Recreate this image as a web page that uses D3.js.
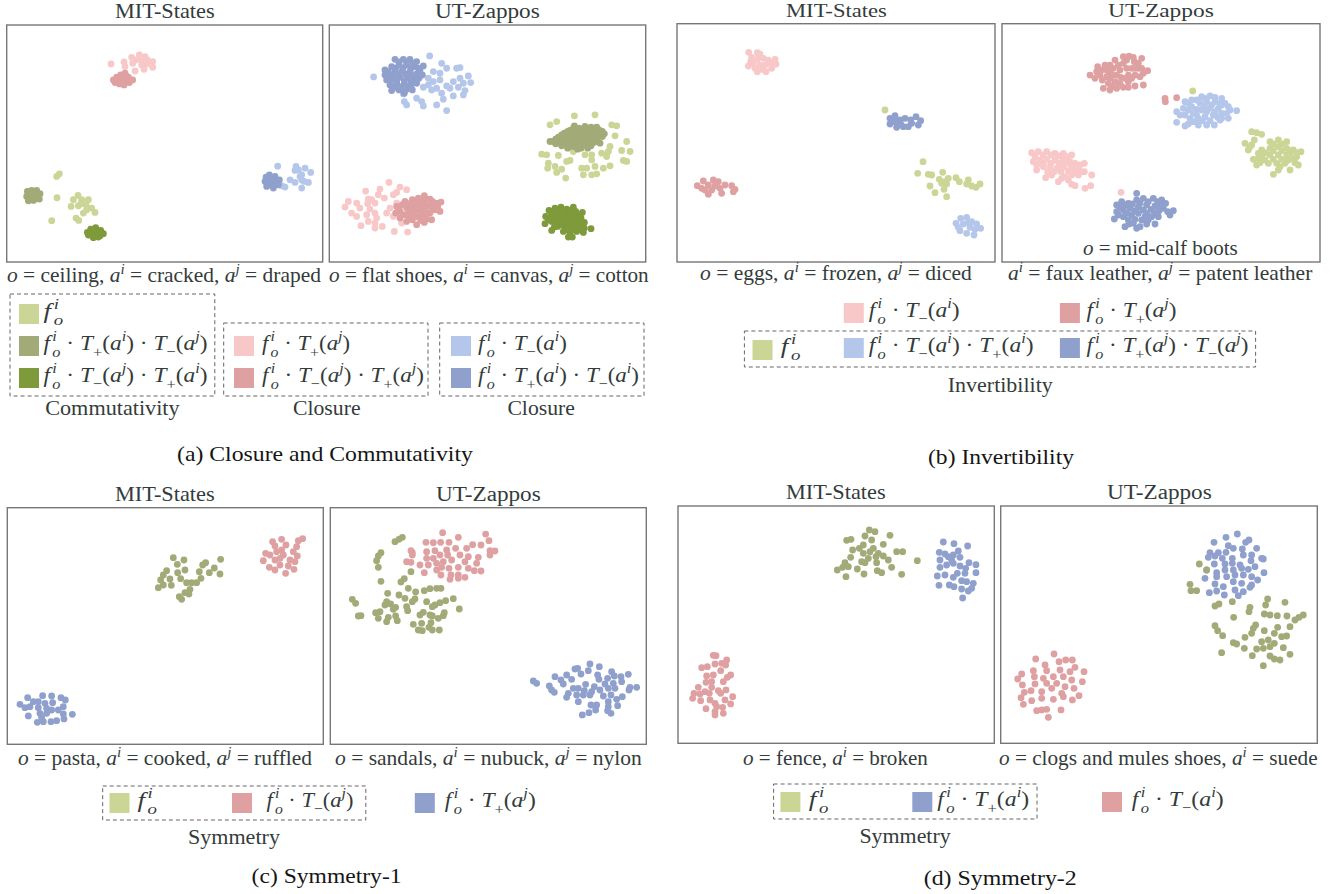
<!DOCTYPE html>
<html>
<head>
<meta charset="utf-8">
<script src="https://cdn.jsdelivr.net/npm/d3@7"></script>
<style>
  body { margin: 0; background: #fff; }
  text { font-family: "Liberation Serif", serif; white-space: pre; }
</style>
</head>
<body>
<svg id="chart" width="1332" height="894"></svg>
<script>
// t-SNE points, one list per cluster
const a1LightPink = [[333,192],[372,186],[375,200],[395,172],[405,180],[418,165],[435,170],[428,185],[442,180],[458,185],[458,202],[432,208],[405,213],[398,190],[415,178],[440,192],[425,195]];
const a1Pink = [[340,240],[350,232],[362,225],[375,220],[385,232],[398,240],[345,248],[358,252],[372,255],[388,248],[368,240],[355,240],[380,240],[378,228],[365,232],[350,240],[362,245],[375,248],[390,240],[370,230]];
const a1LightGreen = [[178,522],[170,530],[171,594],[155,663],[234,587],[220,600],[245,600],[265,600],[213,620],[235,618],[258,615],[275,625],[250,640],[285,638],[228,655],[236,662],[260,630],[243,612]];
const a1Olive = [[82,575],[95,572],[110,572],[120,582],[118,598],[100,602],[85,603],[80,590],[95,588],[108,590],[90,580],[103,580],[112,582],[90,597],[105,598],[88,588],[100,590],[115,590]];
const a1Green = [[262,698],[272,688],[287,684],[302,692],[310,702],[295,712],[280,714],[265,706],[285,700],[298,700],[275,698],[290,692],[305,700],[272,706],[288,708],[300,708],[280,692]];
const a1LightBlue = [[833,499],[888,500],[895,510],[915,505],[932,518],[885,512],[905,525],[870,540],[885,548],[905,540],[925,548],[905,565],[855,562],[845,558],[900,530],[912,545]];
const a1Blue = [[798,532],[808,525],[825,530],[838,540],[835,555],[820,565],[800,560],[795,545],[815,545],[805,540],[815,535],[828,540],[825,552],[810,555],[805,550],[818,558]];

const a2LightBlue = [[146,231],[314,168],[350,190],[365,205],[405,203],[395,205],[325,215],[310,235],[295,262],[325,245],[345,240],[430,228],[405,235],[437,248],[385,245],[365,258],[415,250],[335,265],[320,270],[350,280],[375,265],[400,262],[420,272],[385,288],[355,298],[335,315],[365,332],[295,318],[290,305],[275,295],[245,315],[238,305],[235,282],[345,220],[310,255],[415,285]];
const a2Blue = [[210,178],[235,178],[255,178],[275,185],[295,198],[180,210],[200,200],[222,195],[245,195],[268,200],[285,210],[190,225],[210,215],[232,212],[255,215],[275,222],[292,225],[185,240],[205,235],[225,232],[248,232],[268,238],[195,255],[215,250],[238,250],[260,252],[200,272],[222,270],[245,268],[262,270],[238,280],[222,186],[245,186],[265,190],[190,215],[212,205],[235,203],[258,205],[280,205],[200,225],[220,222],[242,222],[265,228],[282,235],[195,245],[215,242],[238,242],[258,245],[275,250],[210,262],[230,260],[252,260],[235,270],[180,225]];
const a2LightGreen = [[748,348],[810,345],[695,365],[675,375],[860,375],[875,378],[870,408],[905,425],[890,452],[915,455],[905,485],[895,482],[855,440],[850,455],[830,460],[845,470],[800,480],[835,505],[855,498],[810,500],[785,505],[770,505],[775,525],[800,525],[815,522],[735,482],[725,485],[700,467],[665,465],[650,463],[670,490],[668,505],[690,500],[695,518],[710,508],[722,535],[745,455],[780,465],[800,465]];
const a2Olive = [[675,425],[692,418],[692,432],[710,405],[710,420],[710,438],[728,395],[728,412],[728,430],[728,445],[745,385],[745,402],[745,420],[745,440],[762,385],[762,402],[762,420],[768,445],[780,380],[780,398],[780,415],[780,435],[798,382],[798,400],[798,418],[798,438],[815,382],[815,400],[815,418],[832,395],[832,410],[825,430],[748,378],[685,425],[700,412],[700,428],[718,400],[718,415],[718,432],[735,392],[735,405],[737,422],[737,438],[752,392],[753,412],[755,430],[758,448],[770,392],[772,410],[772,428],[790,388],[790,408],[790,426],[788,445],[805,392],[806,410],[806,428],[822,390],[823,405],[818,425],[838,402]];
const a2LightPink = [[192,548],[122,574],[165,568],[160,585],[225,562],[245,570],[205,585],[130,598],[178,595],[70,605],[60,622],[95,610],[128,612],[150,610],[105,625],[135,628],[80,640],[95,650],[125,645],[150,640],[195,625],[185,640],[205,650],[130,665],[150,670],[108,678],[150,685],[172,680],[208,695],[248,697],[230,670],[215,610],[155,655],[215,578],[140,600]];
const a2Pink = [[215,620],[212,640],[225,655],[240,605],[245,625],[245,645],[245,665],[262,600],[262,620],[262,640],[262,660],[275,675],[280,595],[280,612],[280,632],[280,652],[298,588],[298,608],[298,628],[298,648],[298,668],[315,598],[315,618],[315,640],[320,660],[332,610],[330,630],[348,607],[345,635],[225,635],[232,615],[222,625],[235,645],[252,612],[253,635],[253,655],[270,608],[270,628],[270,650],[288,600],[288,622],[288,642],[288,662],[306,598],[306,618],[306,638],[306,658],[322,605],[322,625],[338,620]];
const a2Green = [[672,632],[690,625],[708,622],[725,628],[745,622],[772,638],[662,650],[680,645],[700,642],[720,645],[740,642],[758,648],[660,672],[680,665],[700,660],[720,662],[740,660],[760,665],[778,668],[680,692],[698,680],[718,680],[738,680],[758,682],[778,685],[798,687],[715,695],[735,700],[755,695],[742,712],[775,698],[680,635],[698,632],[716,632],[735,632],[752,635],[670,660],[690,652],[710,652],[730,652],[750,655],[768,655],[690,670],[710,670],[730,670],[750,672],[770,675],[688,682],[728,690],[748,690],[765,690],[730,712]];

const b1LightPink = [[236,157],[262,158],[270,162],[245,172],[262,178],[280,175],[295,180],[315,178],[318,192],[305,205],[288,215],[262,215],[235,198],[250,190],[270,195],[285,195],[300,190],[255,205],[275,208],[242,185]];
const b1Blue = [[660,355],[675,347],[690,360],[660,372],[680,382],[700,380],[715,380],[705,355],[722,360],[738,350],[752,362],[745,375],[725,370],[692,372],[675,365]];
const b1LightGreen = [[645,330],[759,485],[743,520],[775,523],[785,525],[818,517],[808,538],[825,545],[835,535],[858,533],[868,545],[895,540],[890,552],[905,558],[918,562],[930,552],[780,558],[795,578],[822,568],[830,590],[815,550],[830,552]];
const b1LightBlue = [[858,670],[872,655],[890,652],[905,665],[920,672],[932,685],[912,705],[890,700],[870,692],[880,672],[900,682],[865,682],[915,688],[895,668]];
const b1Pink = [[82,557],[100,543],[130,540],[145,545],[95,565],[115,555],[135,558],[115,583],[155,580],[165,555],[185,557],[195,568],[190,575],[150,565],[125,570],[105,570]];

const b2Pink = [[285,225],[308,200],[300,235],[330,195],[335,210],[315,225],[322,240],[325,265],[345,270],[340,250],[360,180],[355,205],[352,225],[360,245],[385,170],[402,168],[385,190],[375,210],[378,232],[385,262],[420,258],[445,255],[440,175],[418,185],[410,205],[400,225],[400,245],[430,205],[458,212],[435,230],[420,225],[345,235],[365,265],[510,295],[511,305],[545,293],[320,210],[345,195],[370,195],[395,180],[415,172],[395,205],[420,205],[440,205],[345,218],[365,225],[390,235],[410,235],[335,230],[305,215],[350,260],[375,250],[400,262],[430,190],[445,220]];
const b2LightBlue = [[570,305],[590,300],[620,290],[645,288],[680,295],[545,335],[565,325],[590,320],[615,310],[635,305],[660,305],[690,310],[705,330],[725,332],[545,367],[570,345],[595,340],[620,330],[645,325],[670,325],[695,340],[570,378],[590,365],[610,355],[630,350],[655,345],[680,355],[700,355],[610,375],[635,375],[658,375],[675,360],[580,310],[605,300],[630,295],[660,292],[675,310],[555,345],[580,330],[605,328],[628,318],[650,315],[680,315],[700,320],[585,355],[605,345],[635,335],[660,335],[680,340],[600,365],[622,362],[645,362],[668,352],[580,372]];
const b2LightGreen = [[593,273],[770,395],[800,403],[785,398],[750,430],[760,450],[770,435],[778,420],[825,425],[850,420],[875,425],[800,450],[825,445],[850,440],[875,445],[895,450],[918,455],[775,478],[785,495],[800,470],[825,465],[850,465],[875,465],[895,475],[820,490],[845,490],[870,490],[885,510],[910,495],[835,523],[850,510],[790,460],[905,470],[835,432],[860,432],[885,460],[810,458],[835,452],[860,452],[885,452],[905,458],[810,480],[835,478],[860,478],[880,480],[795,488],[855,500],[900,488],[765,440],[790,475]];
const b2LightPink = [[110,458],[130,455],[155,455],[180,460],[205,460],[230,465],[115,485],[135,480],[155,478],[180,480],[205,480],[225,485],[125,510],[145,500],[165,500],[185,505],[205,500],[230,500],[250,505],[268,490],[152,533],[170,525],[190,545],[210,530],[230,525],[250,525],[268,515],[290,525],[230,553],[240,557],[270,565],[287,557],[378,577],[120,470],[145,465],[168,465],[192,468],[215,470],[125,495],[145,490],[168,490],[192,490],[215,490],[240,490],[158,515],[178,515],[198,515],[220,512],[240,512],[258,515],[255,495],[200,535],[220,540]];
const b2Blue = [[425,580],[380,605],[365,615],[400,610],[425,600],[445,595],[475,595],[500,600],[512,610],[365,635],[385,630],[405,625],[430,620],[455,615],[480,618],[505,625],[535,632],[525,645],[358,657],[385,650],[410,645],[430,640],[455,640],[490,650],[478,638],[390,680],[415,670],[435,680],[480,672],[440,660],[460,660],[375,620],[392,615],[412,612],[435,610],[460,605],[488,605],[495,615],[370,645],[395,640],[420,632],[445,630],[468,628],[492,632],[518,635],[400,660],[420,658],[450,650],[470,650],[402,672],[425,685],[455,672]];

const c1Pink = [[845,178],[908,176],[895,182],[818,185],[825,198],[858,195],[890,200],[797,220],[810,225],[830,215],[845,210],[880,215],[892,228],[790,242],[825,240],[840,235],[870,240],[885,245],[808,262],[825,270],[840,255],[865,258],[882,268],[857,280],[850,225]];
const c1Olive = [[520,233],[662,238],[552,240],[532,253],[617,248],[608,255],[643,264],[598,275],[628,278],[660,282],[500,272],[533,278],[555,270],[490,285],[482,300],[510,297],[542,296],[603,295],[560,308],[575,308],[590,308],[475,323],[490,315],[514,316],[570,328],[555,338],[567,342],[538,350],[545,358]];
const c1Blue = [[60,673],[75,683],[83,653],[100,665],[128,647],[155,648],[183,653],[196,660],[115,665],[135,670],[158,668],[90,680],[115,683],[140,685],[175,690],[190,680],[85,708],[120,700],[140,700],[190,702],[217,703],[192,717],[112,727],[130,725],[153,725],[170,722],[155,690],[125,712]];

const c2Olive = [[232,172],[222,178],[210,185],[168,218],[160,228],[155,242],[160,262],[168,304],[238,296],[228,306],[258,275],[250,325],[298,332],[315,326],[335,325],[348,325],[188,340],[222,345],[240,355],[272,336],[82,358],[92,370],[185,365],[180,375],[197,372],[212,382],[205,388],[270,357],[262,365],[245,380],[248,392],[305,365],[385,356],[362,362],[345,368],[330,375],[322,380],[403,387],[100,408],[108,407],[152,398],[165,395],[160,415],[190,412],[185,425],[212,408],[217,422],[295,397],[285,405],[315,405],[322,408],[358,398],[355,407],[340,415],[265,433],[290,430],[318,428],[312,442],[280,450],[292,452],[322,450],[343,450]];
const c2Pink = [[353,158],[482,162],[400,172],[492,182],[303,187],[325,188],[347,187],[372,187],[443,194],[468,195],[258,212],[262,218],[305,215],[330,212],[365,210],[392,205],[425,205],[495,212],[510,213],[262,225],[245,245],[258,247],[305,235],[325,235],[345,225],[368,225],[405,225],[430,230],[460,232],[495,225],[285,255],[310,255],[335,250],[355,245],[380,240],[420,245],[455,250],[298,278],[335,270],[350,262],[372,265],[400,262],[430,265],[448,272],[468,273],[348,285],[378,285],[400,285],[420,292],[375,298],[400,295]];
const c2Blue = [[795,552],[823,560],[750,567],[758,565],[790,572],[690,590],[725,585],[768,582],[818,585],[860,575],[910,583],[625,603],[635,610],[708,600],[740,598],[715,612],[822,598],[848,595],[868,588],[888,590],[890,605],[673,618],[680,630],[688,637],[782,613],[808,620],[840,612],[865,610],[915,622],[935,622],[912,630],[745,625],[760,625],[778,632],[800,635],[825,630],[850,625],[870,625],[730,640],[725,652],[755,645],[775,645],[795,645],[835,648],[858,645],[892,650],[760,665],[798,675],[815,675],[850,665],[875,658],[878,677],[812,690],[850,680],[772,705],[792,698],[858,700],[848,692]];

const d1Olive = [[598,150],[615,155],[660,166],[585,168],[605,180],[530,181],[543,178],[580,195],[640,193],[548,210],[568,205],[610,205],[680,215],[698,215],[542,232],[580,220],[600,215],[625,220],[742,242],[525,248],[575,245],[595,235],[618,230],[640,228],[655,240],[502,270],[518,262],[535,260],[562,267],[585,248],[620,248],[665,262],[528,290],[582,282],[622,272],[635,278],[695,283]];
const d1Blue = [[820,186],[852,191],[893,198],[808,217],[825,222],[865,213],[810,240],[835,230],[850,225],[870,232],[810,262],[830,255],[850,250],[897,248],[918,254],[870,258],[887,265],[802,288],[825,285],[850,292],[862,280],[885,280],[918,278],[807,316],[838,315],[852,320],[875,302],[890,305],[910,310],[875,327],[895,333],[905,325],[878,354],[845,240]];
const d1Pink = [[130,526],[138,527],[170,540],[135,552],[155,550],[167,555],[95,563],[112,560],[152,572],[182,585],[110,588],[130,585],[172,592],[160,605],[108,607],[125,605],[85,622],[105,635],[125,622],[145,632],[168,630],[72,640],[90,642],[118,640],[152,640],[188,650],[68,655],[92,662],[120,660],[135,670],[165,660],[108,686],[140,680],[158,682],[182,672],[135,695],[135,705],[160,700]];

const d2Blue = [[727,162],[693,172],[762,180],[657,187],[752,187],[700,197],[785,205],[715,205],[742,207],[645,218],[670,218],[693,217],[640,232],[660,228],[745,225],[770,225],[682,235],[712,235],[800,235],[805,237],[658,252],[690,252],[712,250],[735,255],[768,242],[635,270],[780,260],[665,278],[690,270],[715,270],[740,265],[760,268],[807,278],[630,295],[665,290],[695,290],[720,285],[745,285],[770,290],[660,312],[685,320],[715,305],[740,310],[788,300],[770,315],[643,338],[665,333],[688,345],[720,330],[745,335],[730,347],[765,322]];
const d2Olive = [[613,252],[635,270],[585,313],[588,332],[605,332],[660,378],[672,372],[712,365],[818,357],[812,375],[870,367],[765,382],[762,395],[716,412],[808,402],[825,405],[847,407],[876,408],[925,405],[912,412],[900,420],[660,437],[668,452],[683,467],[782,435],[775,445],[848,442],[885,440],[808,452],[770,460],[750,472],[838,460],[860,470],[875,468],[715,488],[725,492],[748,505],[800,485],[820,480],[838,490],[680,518],[772,527],[785,507],[805,505],[825,500],[865,503],[885,523],[825,528],[838,537],[855,540],[805,557]];
const d2Pink = [[177,522],[122,537],[192,545],[212,540],[232,540],[150,555],[155,572],[240,562],[80,582],[115,572],[195,570],[225,575],[267,575],[68,597],[118,590],[145,595],[175,590],[205,590],[230,600],[262,605],[82,615],[120,612],[155,610],[185,610],[210,620],[237,625],[88,637],[108,632],[140,635],[170,625],[200,640],[78,653],[110,662],[140,655],[175,658],[205,650],[232,660],[252,647],[85,673],[125,692],[140,690],[155,688],[198,690],[160,712]];

// label texts, *x* = italic, ^x = superscript, _x = subscript
const panelTitles = ["MIT-States", "UT-Zappos"];
const subCaptions = ["(a) Closure and Commutativity", "(b) Invertibility", "(c) Symmetry-1", "(d) Symmetry-2"];
const groupNames = ["Commutativity", "Closure", "Invertibility", "Symmetry"];
const F = "*f*^i_o";
const mathLabels = {
  base: F,
  pi: F + " · *T*_+(*a*^i)",
  pj: F + " · *T*_+(*a*^j)",
  mi: F + " · *T*_−(*a*^i)",
  mj: F + " · *T*_−(*a*^j)",
  pimj: F + " · *T*_+(*a*^i) · *T*_−(*a*^j)",
  mjpi: F + " · *T*_−(*a*^j) · *T*_+(*a*^i)",
  mjpj: F + " · *T*_−(*a*^j) · *T*_+(*a*^j)",
  pimi: F + " · *T*_+(*a*^i) · *T*_−(*a*^i)",
  mipi: F + " · *T*_−(*a*^i) · *T*_+(*a*^i)",
  pjmj: F + " · *T*_+(*a*^j) · *T*_−(*a*^j)"
};

const lightGreen = "#cbd596", olive = "#a2ab78", green = "#7f9a3a";
const lightPink = "#f8c7c8", pink = "#dfa0a2";
const lightBlue = "#b4c7ea", blue = "#8fa0cd";
const inkColor = "#333b3b", captionColor = "#151515", boxColor = "#777";
const mathSize = 22;

const svg = d3.select("#chart");

// one text element, sub and superscripts as tspans, stretched to the width in the paper
function mathText(left, baseline, width, src, size, color) {
  const t = svg.append("text").attr("font-size", size).attr("fill", color || inkColor);
  let shift = 0, lastSup = null, lastItalic = "";
  for (const m of src.matchAll(/\*([^*]+)\*|\^(.)|_(.)|[^*^_]+/g)) {
    const s = t.append("tspan");
    if (m[1]) {
      s.text(m[1]).attr("font-style", "italic").attr("dy", -shift);
      shift = 0; lastSup = null; lastItalic = m[1];
    } else if (m[2]) {
      const up = -size * 0.4;
      s.text(m[2]).attr("font-style", "italic").attr("font-size", size * 0.7).attr("dy", up - shift);
      if (lastItalic === "f") s.attr("dx", size * 0.1);
      shift = up; lastSup = s;
    } else if (m[3]) {
      const down = size * 0.3;
      s.text(m[3]).attr("font-size", size * 0.7).attr("dy", down - shift);
      if (/[a-z]/.test(m[3])) s.attr("font-style", "italic");
      if (lastSup) s.attr("dx", -lastSup.node().getComputedTextLength());
      shift = down; lastSup = null;
    } else {
      s.text(m[0]).attr("dy", -shift);
      shift = 0; lastSup = null;
    }
  }
  const k = width / t.node().getBBox().width;
  t.attr("transform", `translate(${left},${baseline}) scale(${k},1)`);
}

function drawPanel(p) {
  const x = d3.scaleLinear().domain(p.dx).range([p.left, p.left + p.w]);
  const y = d3.scaleLinear().domain(p.dy).range([p.top, p.top + p.h]);
  svg.append("rect")
    .attr("x", p.left).attr("y", p.top).attr("width", p.w).attr("height", p.h)
    .attr("fill", "#fff").attr("stroke", boxColor).attr("stroke-width", 1.4);
  p.series.forEach(s => {
    svg.append("g").attr("fill", s[1]).selectAll("circle").data(s[0]).join("circle")
      .attr("cx", d => x(d[0])).attr("cy", d => y(d[1])).attr("r", 3.4);
  });
}

function swatch(x, y, color) {
  svg.append("rect").attr("x", x).attr("y", y).attr("width", 20).attr("height", 20).attr("fill", color);
}

function dashedBox(x0, y0, x1, y1) {
  svg.append("rect").attr("x", x0).attr("y", y0).attr("width", x1 - x0).attr("height", y1 - y0)
    .attr("fill", "none").attr("stroke", "#666").attr("stroke-width", 1).attr("stroke-dasharray", "4,3");
}

const panels = [
  {left: 6.7, top: 25, w: 316, h: 237, dx: [20, 968], dy: [75, 787],
   series: [[a1LightPink, lightPink], [a1Pink, pink], [a1LightGreen, lightGreen], [a1Olive, olive], [a1Green, green], [a1LightBlue, lightBlue], [a1Blue, blue]]},
  {left: 329.3, top: 25, w: 316.4, h: 237, dx: [13, 962], dy: [75, 787],
   series: [[a2LightBlue, lightBlue], [a2Blue, blue], [a2LightGreen, lightGreen], [a2Olive, olive], [a2LightPink, lightPink], [a2Pink, pink], [a2Green, green]]},
  {left: 677, top: 23.7, w: 318, h: 238.3, dx: [21, 975], dy: [71, 786],
   series: [[b1LightPink, lightPink], [b1Blue, blue], [b1LightGreen, lightGreen], [b1LightBlue, lightBlue], [b1Pink, pink]]},
  {left: 1002, top: 23.7, w: 318, h: 238.3, dx: [21, 975], dy: [71, 786],
   series: [[b2Pink, pink], [b2LightBlue, lightBlue], [b2LightGreen, lightGreen], [b2LightPink, lightPink], [b2Blue, blue]]},
  {left: 7.3, top: 507.7, w: 316, h: 236.6, dx: [22, 970], dy: [83, 793],
   series: [[c1Pink, pink], [c1Olive, olive], [c1Blue, blue]]},
  {left: 330.3, top: 507.7, w: 316, h: 236.6, dx: [16, 964], dy: [83, 793],
   series: [[c2Olive, olive], [c2Pink, pink], [c2Blue, blue]]},
  {left: 678, top: 506, w: 316.3, h: 237.3, dx: [24, 973], dy: [78, 790],
   series: [[d1Olive, olive], [d1Blue, blue], [d1Pink, pink]]},
  {left: 1000.7, top: 506, w: 316.6, h: 237.3, dx: [17, 967], dy: [78, 790],
   series: [[d2Blue, blue], [d2Olive, olive], [d2Pink, pink]]}
];
panels.forEach(drawPanel);

// panel titles
[[115, 18, 100, 0, 20], [435, 18, 105, 1, 20], [786, 17, 101, 0, 19], [1108, 17, 106, 1, 19],
 [115, 501, 100, 0, 20], [436, 501, 105, 1, 20], [786, 499, 100, 0, 20], [1107, 499, 105, 1, 20]]
  .forEach(d => mathText(d[0], d[1], d[2], panelTitles[d[3]], d[4]));

// captions under the panels
mathText(7, 282, 314, "*o* = ceiling, *a*^i = cracked, *a*^j = draped", 20);
mathText(329, 282, 320, "*o* = flat shoes, *a*^i = canvas, *a*^j = cotton", 20);
mathText(700, 280, 272, "*o* = eggs, *a*^i = frozen, *a*^j = diced", 20);
mathText(1083, 255, 155, "*o* = mid-calf boots", 20);
mathText(1008, 280, 305, "*a*^i = faux leather, *a*^j = patent leather", 20);
mathText(18, 765, 294, "*o* = pasta, *a*^i = cooked, *a*^j = ruffled", 20);
mathText(335, 765, 307, "*o* = sandals, *a*^i = nubuck, *a*^j = nylon", 20);
mathText(743, 765, 185, "*o* = fence, *a*^i = broken", 20);
mathText(999, 765, 319, "*o* = clogs and mules shoes, *a*^i = suede", 20);

// legend (a)
dashedBox(10, 294, 214.8, 396);
dashedBox(223.7, 323, 428, 396);
dashedBox(439.7, 323, 644, 396);
swatch(19, 304, lightGreen);  mathText(43.5, 318, 20, mathLabels.base, mathSize);
swatch(19, 336, olive);       mathText(43.5, 350, 164, mathLabels.pimj, mathSize);
swatch(19, 368, green);       mathText(43.5, 382, 164, mathLabels.mjpi, mathSize);
swatch(234, 336, lightPink);  mathText(262, 350, 88, mathLabels.pj, mathSize);
swatch(234, 368, pink);       mathText(262, 382, 162, mathLabels.mjpj, mathSize);
swatch(451, 336, lightBlue);  mathText(478, 350, 89, mathLabels.mi, mathSize);
swatch(451, 368, blue);       mathText(478, 382, 161, mathLabels.pimi, mathSize);
mathText(45.2, 415, 134.5, groupNames[0], 20);
mathText(293, 415, 67.7, groupNames[1], 20);
mathText(507.4, 415, 67.6, groupNames[1], 20);
mathText(177, 461, 296, subCaptions[0], 22, captionColor);

// legend (b)
dashedBox(744.4, 331, 1255.6, 367);
swatch(843.8, 303, lightPink);  mathText(868.7, 317, 91, mathLabels.mi, mathSize);
swatch(1059.9, 303, pink);      mathText(1086.5, 317, 90, mathLabels.pj, mathSize);
swatch(752.5, 340, lightGreen); mathText(780.8, 353, 20, mathLabels.base, mathSize);
swatch(843.8, 338, lightBlue);  mathText(868.7, 352, 165, mathLabels.mipi, mathSize);
swatch(1059.9, 338, blue);      mathText(1086.5, 352, 162, mathLabels.pjmj, mathSize);
mathText(947.8, 392, 105, groupNames[2], 20);
mathText(928, 464, 146, subCaptions[1], 22, captionColor);

// legend (c)
dashedBox(102.7, 786, 365.8, 820);
swatch(109.5, 793, lightGreen); mathText(137.4, 807, 20, mathLabels.base, mathSize);
swatch(232, 793, pink);         mathText(266.4, 807, 87, mathLabels.mj, mathSize);
swatch(414.8, 793, blue);       mathText(444.8, 807, 91, mathLabels.pj, mathSize);
mathText(188, 844, 92, groupNames[3], 20);
mathText(251.6, 883, 150, subCaptions[2], 22, captionColor);

// legend (d)
dashedBox(773.6, 784, 1037, 819);
swatch(780.4, 792, lightGreen); mathText(808.7, 806, 20, mathLabels.base, mathSize);
swatch(912.3, 792, blue);       mathText(937.2, 806, 92, mathLabels.pi, mathSize);
swatch(1102, 792, pink);        mathText(1131.7, 806, 92, mathLabels.mi, mathSize);
mathText(859.4, 843, 91.4, groupNames[3], 20);
mathText(923.7, 885, 153, subCaptions[3], 22, captionColor);
</script>
</body>
</html>
